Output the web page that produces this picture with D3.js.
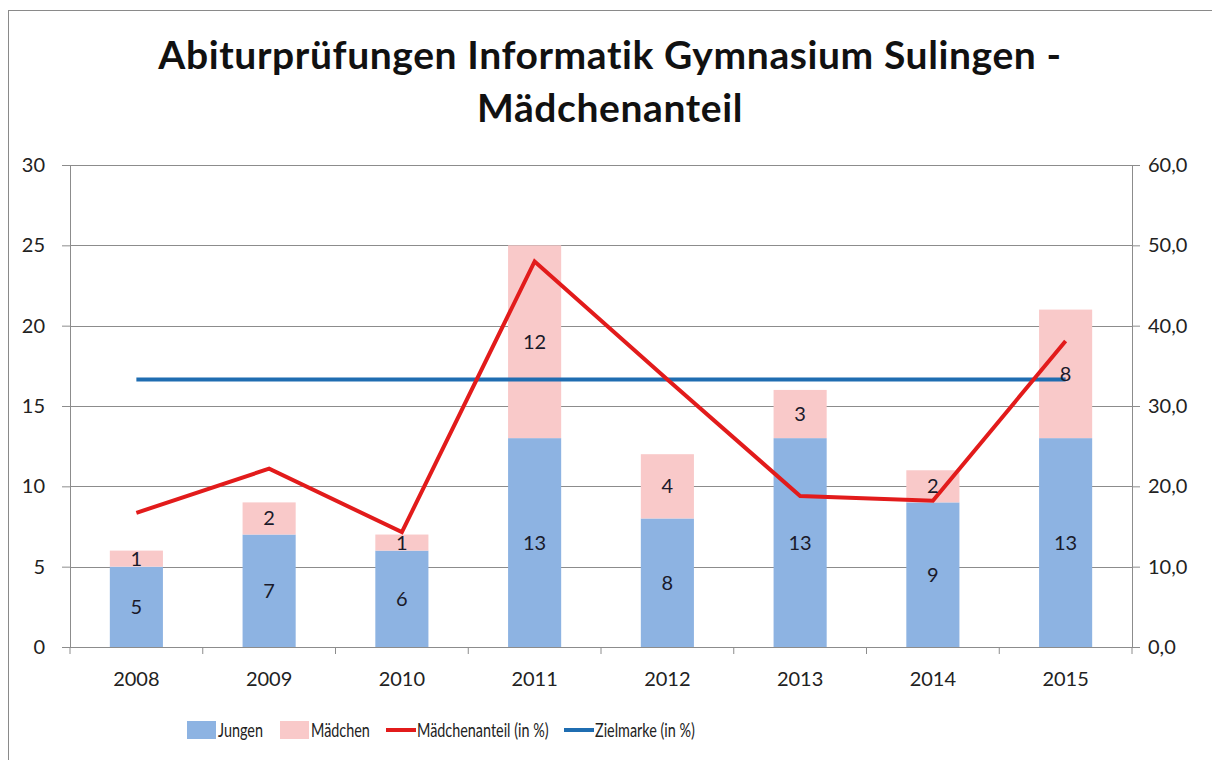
<!DOCTYPE html>
<html>
<head>
<meta charset="utf-8">
<script src="https://cdn.jsdelivr.net/npm/d3@7"></script>
<style>
  body { margin: 0; background: #fff; }
  svg { display: block; font-family: Lato, "Open Sans", sans-serif; }
</style>
</head>
<body>
<div id="chart"></div>
<script>
// chart data
const years = ['2008', '2009', '2010', '2011', '2012', '2013', '2014', '2015'];
const jungen = [5, 7, 6, 13, 8, 13, 9, 13];
const maedchen = [1, 2, 1, 12, 4, 3, 2, 8];
const anteil = [16.7, 22.2, 14.3, 48.0, 33.3, 18.8, 18.2, 38.1];
const zielmarke = [33.3, 33.3, 33.3, 33.3, 33.3, 33.3, 33.3, 33.3];
const leftTicks = [0, 5, 10, 15, 20, 25, 30];
const rightTicks = [0, 10, 20, 30, 40, 50, 60];

const width = 1212, height = 760;
const margin = {top: 165, right: 80, bottom: 113, left: 70};

const svg = d3.select('#chart').append('svg')
  .attr('width', width)
  .attr('height', height);

// outer frame
svg.append('rect')
  .attr('x', 8.5).attr('y', 10.5)
  .attr('width', width).attr('height', height)
  .attr('fill', 'none')
  .attr('stroke', '#8a8a8a');

// title
const title = svg.append('text')
  .attr('text-anchor', 'middle')
  .attr('font-size', 39)
  .attr('font-weight', 'bold')
  .attr('letter-spacing', 0.6)
  .attr('fill', '#111');
title.append('tspan').attr('x', 610).attr('y', 69).text('Abiturprüfungen Informatik Gymnasium Sulingen -');
title.append('tspan').attr('x', 610).attr('y', 122).text('Mädchenanteil');

const x = d3.scaleBand()
  .domain(years)
  .range([margin.left, width - margin.right]);

const y = d3.scaleLinear()
  .domain([0, 30])
  .range([height - margin.bottom, margin.top]);

const y2 = d3.scaleLinear()
  .domain([0, 60])
  .range([height - margin.bottom, margin.top]);

// grid lines
svg.append('g')
  .selectAll('line')
  .data(leftTicks)
  .enter().append('line')
  .attr('x1', margin.left)
  .attr('x2', width - margin.right)
  .attr('y1', d => Math.round(y(d)) + 0.5)
  .attr('y2', d => Math.round(y(d)) + 0.5)
  .attr('stroke', '#8c8c8c')
  .attr('stroke-width', 1);

// stacked bars
const barW = x.bandwidth() * 0.4;
const bars = svg.append('g');

bars.selectAll('.jungen')
  .data(years)
  .enter().append('rect')
  .attr('class', 'jungen')
  .attr('x', d => x(d) + (x.bandwidth() - barW) / 2)
  .attr('width', barW)
  .attr('y', (d, i) => y(jungen[i]))
  .attr('height', (d, i) => y(0) - y(jungen[i]))
  .attr('fill', '#8db3e2');

bars.selectAll('.maedchen')
  .data(years)
  .enter().append('rect')
  .attr('class', 'maedchen')
  .attr('x', d => x(d) + (x.bandwidth() - barW) / 2)
  .attr('width', barW)
  .attr('y', (d, i) => y(jungen[i] + maedchen[i]))
  .attr('height', (d, i) => y(jungen[i]) - y(jungen[i] + maedchen[i]))
  .attr('fill', '#f9c9c9');

// axes
const axisColor = '#8c8c8c';
const left = svg.append('g')
  .attr('transform', 'translate(' + margin.left + ',0)')
  .call(d3.axisLeft(y).tickValues(leftTicks).tickSize(8).tickPadding(17));
const right = svg.append('g')
  .attr('transform', 'translate(' + (width - margin.right) + ',0)')
  .call(d3.axisRight(y2).tickValues(rightTicks).tickSize(8).tickPadding(8)
    .tickFormat(d => d3.format('.1f')(d).replace('.', ',')));
const bottom = svg.append('g')
  .attr('transform', 'translate(0,' + (height - margin.bottom) + ')')
  .call(d3.axisBottom(x).tickSize(0).tickPadding(25));

// category separators on the x axis
bottom.selectAll('.sep')
  .data(d3.range(years.length + 1))
  .enter().append('line')
  .attr('class', 'sep')
  .attr('x1', i => margin.left + i * x.step())
  .attr('x2', i => margin.left + i * x.step())
  .attr('y1', 0).attr('y2', 7)
  .attr('stroke', axisColor);

[left, right, bottom].forEach(g => {
  g.select('.domain').attr('stroke', axisColor);
  g.selectAll('.tick line').attr('stroke', axisColor);
  g.selectAll('text').attr('font-size', 20).attr('fill', '#222')
    .attr('font-family', 'Lato, "Open Sans", sans-serif');
});
bottom.select('.domain').attr('d', 'M' + margin.left + ',0.5H' + (width - margin.right));

// lines
const line = d3.line()
  .x((d, i) => x(years[i]) + x.bandwidth() / 2)
  .y(d => y2(d));

svg.append('path')
  .datum(zielmarke)
  .attr('d', line)
  .attr('fill', 'none')
  .attr('stroke', '#1f6db1')
  .attr('stroke-width', 4);

svg.append('path')
  .datum(anteil)
  .attr('d', line)
  .attr('fill', 'none')
  .attr('stroke', '#e21b1b')
  .attr('stroke-width', 4)
  .attr('stroke-linejoin', 'miter');

// data labels
const labels = svg.append('g')
  .attr('text-anchor', 'middle')
  .attr('font-size', 20)
  .attr('fill', '#1a1a2a');

labels.selectAll('.lj')
  .data(years)
  .enter().append('text')
  .attr('x', d => x(d) + x.bandwidth() / 2)
  .attr('y', (d, i) => (y(0) + y(jungen[i])) / 2)
  .attr('dy', '0.35em')
  .text((d, i) => jungen[i]);

labels.selectAll('.lm')
  .data(years)
  .enter().append('text')
  .attr('x', d => x(d) + x.bandwidth() / 2)
  .attr('y', (d, i) => (y(jungen[i]) + y(jungen[i] + maedchen[i])) / 2)
  .attr('dy', '0.35em')
  .text((d, i) => maedchen[i]);

// legend
const legendItems = [
  {label: 'Jungen', type: 'rect', color: '#8db3e2', x: 187},
  {label: 'Mädchen', type: 'rect', color: '#f9c9c9', x: 280},
  {label: 'Mädchenanteil (in %)', type: 'line', color: '#e21b1b', x: 386},
  {label: 'Zielmarke (in %)', type: 'line', color: '#1f6db1', x: 564}
];
const legend = svg.append('g').attr('transform', 'translate(0,730)');
const item = legend.selectAll('g')
  .data(legendItems)
  .enter().append('g')
  .attr('transform', d => 'translate(' + d.x + ',0)');

item.filter(d => d.type === 'rect').append('rect')
  .attr('x', 0).attr('y', -9)
  .attr('width', 29).attr('height', 18)
  .attr('fill', d => d.color);
item.filter(d => d.type === 'line').append('line')
  .attr('x1', 0).attr('x2', 30)
  .attr('y1', 0).attr('y2', 0)
  .attr('stroke', d => d.color)
  .attr('stroke-width', 4);
// the legend font in the original is narrow, so squeeze it a bit
item.append('text')
  .attr('transform', 'translate(31,0) scale(0.72,1)')
  .attr('dy', '0.35em')
  .attr('font-size', 20)
  .attr('fill', '#222')
  .text(d => d.label);
</script>
</body>
</html>
